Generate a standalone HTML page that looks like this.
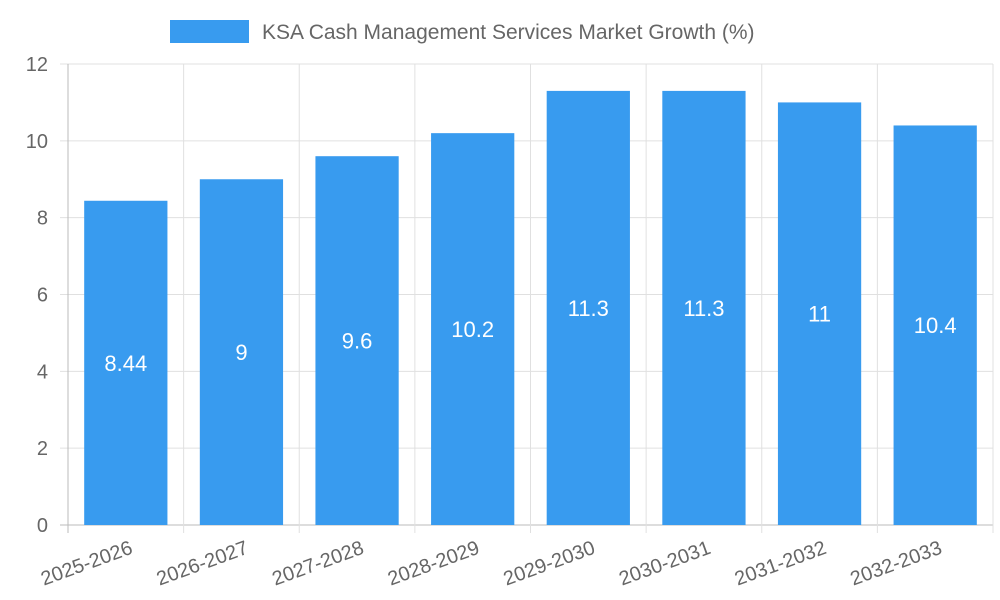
<!DOCTYPE html>
<html><head><meta charset="utf-8"><style>
html,body{margin:0;padding:0;background:#fff;}
svg{display:block;font-family:"Liberation Sans",sans-serif;}
</style></head><body>
<svg id="chart" width="1000" height="600">
<g id="legend">
<rect x="170" y="20" width="79" height="23" fill="#389bef"></rect>
<text x="262" y="39" font-size="21" fill="#666">KSA Cash Management Services Market Growth (%)</text>
</g>
<g id="grid"></g><g id="bars"></g><g id="axes"></g>
</svg>
<script>
const categories=["2025-2026","2026-2027","2027-2028","2028-2029","2029-2030","2030-2031","2031-2032","2032-2033"];
const values=[8.44,9,9.6,10.2,11.3,11.3,11,10.4];
const valueLabels=["8.44","9","9.6","10.2","11.3","11.3","11","10.4"];
const yTicks=[0,2,4,6,8,10,12];
const NS="http://www.w3.org/2000/svg";
const L=68,R=993,T=64,B=525,yMax=12;
const band=(R-L)/categories.length;
const y=v=>B-(v/yMax)*(B-T);
const xc=i=>L+band*(i+0.5);
function mk(tag,attrs,parent,text){const e=document.createElementNS(NS,tag);for(const k in attrs)e.setAttribute(k,attrs[k]);if(text!==undefined)e.textContent=text;parent.appendChild(e);return e;}
const grid=document.getElementById('grid'),bars=document.getElementById('bars'),axes=document.getElementById('axes');
yTicks.forEach(t=>{
 const ln=mk('line',{x1:L-8,x2:R,y1:y(t),y2:y(t),stroke:t===0?'#bbb':'#e0e0e0','stroke-width':1},grid);
 
 
 const tx=mk('text',{x:L-20,y:y(t)+7,'text-anchor':'end','font-size':20,fill:'#666'},axes,String(t));
 
 
});
for(let i=0;i<=categories.length;i++){
 const x=L+band*i;
 const ln=mk('line',{x1:x,x2:x,y1:T,y2:B+8,stroke:i===0?'#bbb':'#e0e0e0','stroke-width':1},grid);
 
 
}
const bw=band*0.72;
categories.forEach((c,i)=>{
 const r=mk('rect',{x:xc(i)-bw/2,y:y(values[i]),width:bw,height:B-y(values[i]),fill:'#389bef'},bars);
 
 
 const vl=mk('text',{x:xc(i),y:(y(values[i])+B)/2+8,'text-anchor':'middle','font-size':22,fill:'#fff'},bars,valueLabels[i]);
 
 
 const xl=mk('text',{x:xc(i)+8,y:B+28,'text-anchor':'end','font-size':20,fill:'#666',transform:`rotate(-20 ${xc(i)+8} ${B+28})`},axes,c);
 
 
});
</script>
</body></html>
